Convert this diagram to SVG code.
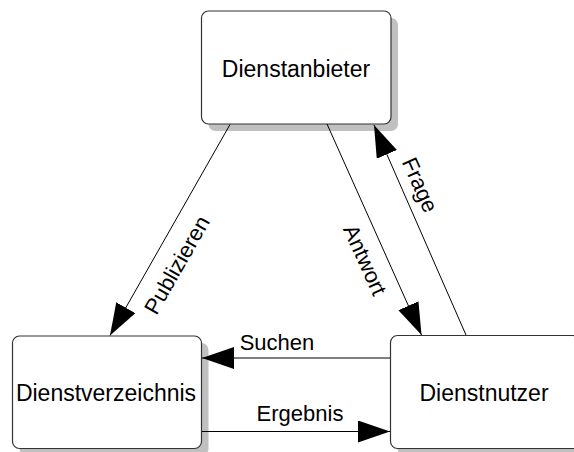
<svg xmlns="http://www.w3.org/2000/svg" width="574" height="452" viewBox="0 0 574 452">
  <style>
    .shadow { fill: #c0c0c0; }
    .box { fill: #ffffff; stroke: #333333; stroke-width: 1.2; }
    .node-text { font-family: "Liberation Sans", Arial, sans-serif; font-size: 23px; fill: #000000; text-anchor: middle; }
    .edge { stroke: #000000; stroke-width: 1; fill: none; marker-end: url(#arrow); }
    .edge-text { font-family: "Liberation Sans", Arial, sans-serif; font-size: 22px; fill: #000000; text-anchor: middle; }
  </style>
  <defs>
    <marker id="arrow" markerUnits="userSpaceOnUse" markerWidth="34" markerHeight="24" refX="32" refY="11" orient="auto">
      <path d="M0,0 L32,11 L0,22 z" fill="#000000"/>
    </marker>
  </defs>

  <rect width="574" height="452" fill="#ffffff"/>

  <!-- service provider -->
  <g id="dienstanbieter">
    <rect class="shadow" x="208.5" y="18" width="189.5" height="113" rx="7"/>
    <rect class="box" x="201.5" y="11" width="189.5" height="113" rx="7"/>
    <text class="node-text" x="296" y="77">Dienstanbieter</text>
  </g>

  <!-- service registry -->
  <g id="dienstverzeichnis">
    <rect class="shadow" x="19.5" y="343" width="189" height="112.5" rx="7"/>
    <rect class="box" x="12.5" y="336" width="189" height="112.5" rx="7"/>
    <text class="node-text" x="106" y="401">Dienstverzeichnis</text>
  </g>

  <!-- service consumer -->
  <g id="dienstnutzer">
    <rect class="shadow" x="397.5" y="342.5" width="189" height="113" rx="7"/>
    <rect class="box" x="390.5" y="335.5" width="189" height="113" rx="7"/>
    <text class="node-text" x="484" y="401">Dienstnutzer</text>
  </g>

  <!-- connectors -->
  <g id="connectors">
    <line class="edge" x1="230" y1="124.5" x2="110" y2="335.5"/>
    <line class="edge" x1="327" y1="124" x2="421.5" y2="335"/>
    <line class="edge" x1="466" y1="335" x2="374" y2="125"/>
    <line class="edge" x1="390" y1="358" x2="202" y2="358"/>
    <line class="edge" x1="202" y1="431.5" x2="390" y2="431.5"/>

    <text class="edge-text" dominant-baseline="central" transform="translate(177,265) rotate(-60.3)">Publizieren</text>
    <text class="edge-text" dominant-baseline="central" transform="translate(365,260) rotate(65.7)">Antwort</text>
    <text class="edge-text" dominant-baseline="central" transform="translate(420,185) rotate(66.1)">Frage</text>
    <text class="edge-text" x="277" y="350">Suchen</text>
    <text class="edge-text" x="300" y="421">Ergebnis</text>
  </g>
</svg>
